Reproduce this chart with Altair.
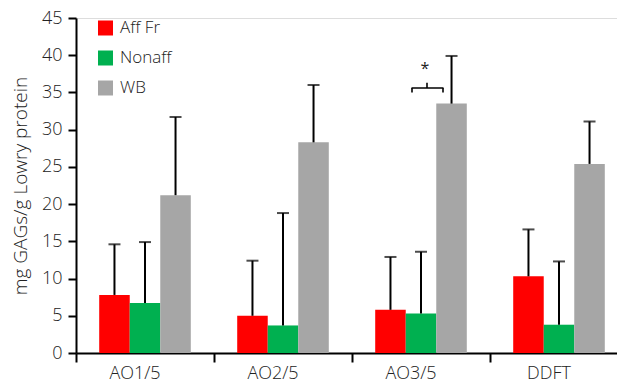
import altair as alt
import pandas as pd

categories = ["AO1/5", "AO2/5", "AO3/5", "DDFT"]
groups = ["Aff Fr", "Nonaff", "WB"]
colors = ["#FF0000", "#00B050", "#A6A6A6"]

aff_mean = [7.8, 5.0, 5.8, 10.3]
aff_upper = [14.6, 12.4, 12.9, 16.6]
nonaff_mean = [6.7, 3.7, 5.3, 3.8]
nonaff_upper = [14.9, 18.8, 13.6, 12.3]
wb_mean = [21.2, 28.3, 33.5, 25.4]
wb_upper = [31.7, 36.0, 39.9, 31.1]

# significance bracket (AO3/5)
sig_category = "AO3/5"
sig_line = 35.6
sig_end = 35.0
sig_top = 36.3
sig_star = 38.2

rows = []
for g, means, ups in zip(groups, [aff_mean, nonaff_mean, wb_mean],
                         [aff_upper, nonaff_upper, wb_upper]):
    for c, m, u in zip(categories, means, ups):
        rows.append({"category": c, "group": g, "mean": m, "upper": u})
df = pd.DataFrame(rows)

FONT = "Open Sans"
FW = 300
TXT = "#222222"

xscale = alt.Scale(domain=categories, paddingInner=0, paddingOuter=0,
                   range=[0, 552])
xaxis = alt.Axis(title=None, bandPosition=0, labelAngle=0,
                 tickSize=9, tickWidth=2, domainWidth=2,
                 domainColor="black", tickColor="black",
                 labelFontSize=18, labelPadding=2, labelFontWeight=FW,
                 labelOffset=-10,
                 labelColor=TXT, labelFont=FONT)
yscale = alt.Scale(domain=[0, 45], nice=False)
yaxis = alt.Axis(title="mg GAGs/g Lowry protein",
                 values=list(range(0, 46, 5)), tickSize=8,
                 tickWidth=2, domainWidth=2, domainColor="black",
                 tickColor="black", grid=False, labelFontSize=18,
                 labelPadding=6, labelColor=TXT, labelFont=FONT,
                 labelFontWeight=FW, labelOverlap=False,
                 titleFont=FONT, titleFontSize=19,
                 titleFontWeight=FW, titleColor=TXT,
                 titlePadding=11)
xo_enc = alt.XOffset("group:N", sort=groups,
                     scale=alt.Scale(domain=groups, paddingOuter=0.76,
                                     paddingInner=0))


def X():
    return alt.X("category:N", scale=xscale, axis=xaxis)


def Y(field):
    return alt.Y(field, scale=yscale, axis=yaxis)


def XD():
    return alt.XDatum(sig_category, type="nominal", scale=xscale, axis=xaxis)


def YD(v):
    return alt.YDatum(v, type="quantitative", scale=yscale, axis=yaxis)


base = alt.Chart(df)

bars = base.mark_bar().encode(
    x=X(),
    xOffset=xo_enc,
    y=Y("mean:Q"),
    color=alt.Color("group:N", sort=groups,
                    scale=alt.Scale(domain=groups, range=colors),
                    legend=alt.Legend(title=None, orient="none", legendX=21,
                                      legendY=1.5, symbolType="square",
                                      symbolSize=225, symbolStrokeWidth=0,
                                      labelFontSize=17, labelFont=FONT,
                                      labelFontWeight=FW,
                                      labelColor=TXT, rowPadding=12,
                                      labelOffset=6)),
)

err = base.mark_rule(color="black", strokeWidth=2).encode(
    x=X(), xOffset=xo_enc, y=Y("mean:Q"), y2="upper:Q",
)
caps = base.mark_tick(color="black", thickness=2, size=12).encode(
    x=X(), xOffset=xo_enc, y=Y("upper:Q"),
)

one = alt.Chart(pd.DataFrame({"k": [0]}))
br_h = one.mark_rule(color="black", strokeWidth=1.6, xOffset=-9.5,
                     x2Offset=22.5).encode(
    x=XD(), x2=alt.X2Datum(sig_category), y=YD(sig_line))
br_l = one.mark_rule(color="black", strokeWidth=1.6, xOffset=-9).encode(
    x=XD(), y=YD(sig_end), y2=alt.Y2Datum(sig_line))
br_r = one.mark_rule(color="black", strokeWidth=1.6, xOffset=22).encode(
    x=XD(), y=YD(sig_end), y2=alt.Y2Datum(sig_line))
br_c = one.mark_rule(color="black", strokeWidth=1.6, xOffset=6).encode(
    x=XD(), y=YD(sig_line), y2=alt.Y2Datum(sig_top))
star = one.mark_text(text="*", fontSize=16, font=FONT, color=TXT,
                     baseline="middle", xOffset=4).encode(
    x=XD(), y=YD(sig_star))

chart = alt.layer(bars, err, caps, br_h, br_l, br_r, br_c, star).properties(
    width=541, height=335,
    autosize=alt.AutoSizeParams(type="none"),
    padding={"left": 68, "top": 10, "right": 0, "bottom": 35},
).configure_view(stroke=None).configure(background="white")

chart.save("out.html", embed_options={"renderer": "svg", "actions": False})
